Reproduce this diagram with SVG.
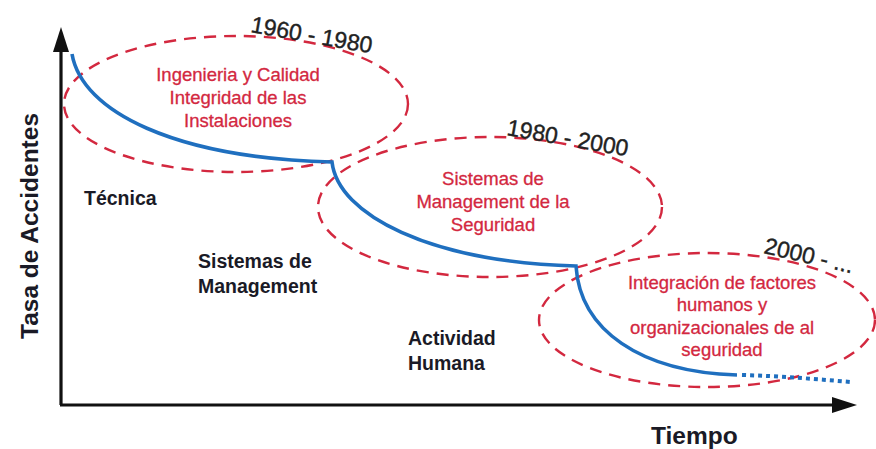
<svg xmlns="http://www.w3.org/2000/svg" width="876" height="449" viewBox="0 0 876 449">
  <defs>
    <style>
      .axis { stroke: #111; stroke-width: 3.2; fill: none; }
      .era { fill: none; stroke: #d3283f; stroke-width: 2.4; stroke-dasharray: 12 8; }
      .curve { fill: none; stroke: #1f6fbf; stroke-width: 3.6; stroke-linecap: butt; }
      .trend { fill: none; stroke: #1f6fbf; stroke-width: 4; stroke-dasharray: 4 4; }
      .red { font-family: "Liberation Sans", Arial, sans-serif; font-size: 18.5px; fill: #d3283f; stroke: #d3283f; stroke-width: 0.3; text-anchor: middle; }
      .lbl { font-family: "Liberation Sans", Arial, sans-serif; font-size: 19.5px; font-weight: bold; fill: #1a1a26; }
      .yr { font-family: "Liberation Sans", Arial, sans-serif; font-size: 23px; fill: #222; stroke: #222; stroke-width: 0.4; }
      .axt { font-family: "Liberation Sans", Arial, sans-serif; font-size: 24.5px; font-weight: bold; fill: #1a1a26; }
    </style>
  </defs>

  <rect width="876" height="449" fill="#fff"/>

  <!-- axes -->
  <g id="axes">
    <path class="axis" d="M61,405 L61,50"/>
    <path d="M53,52 L61,27 L69,52 Z" fill="#111"/>
    <path class="axis" d="M60,405 L834,405"/>
    <path d="M832,397 L857,405 L832,413 Z" fill="#111"/>
    <text class="axt" transform="translate(38,226) rotate(-90)" text-anchor="middle">Tasa de Accidentes</text>
    <text class="axt" x="651" y="444">Tiempo</text>
  </g>

  <!-- era: 1960 - 1980 -->
  <g id="era1">
    <ellipse class="era" cx="236" cy="104" rx="172" ry="68"/>
    <text class="yr" transform="translate(250,32) rotate(10)">1960 - 1980</text>
    <text class="red" x="238" y="81">Ingenieria y Calidad</text>
    <text class="red" x="238" y="104">Integridad de las</text>
    <text class="red" x="238" y="127">Instalaciones</text>
  </g>

  <!-- era: 1980 - 2000 -->
  <g id="era2">
    <ellipse class="era" cx="490" cy="207" rx="172" ry="70"/>
    <text class="yr" transform="translate(506,135) rotate(10)">1980 - 2000</text>
    <text class="red" x="493" y="185">Sistemas de</text>
    <text class="red" x="493" y="208">Management de la</text>
    <text class="red" x="493" y="231">Seguridad</text>
  </g>

  <!-- era: 2000 - ... -->
  <g id="era3">
    <ellipse class="era" cx="707" cy="320" rx="168" ry="67"/>
    <text class="yr" transform="translate(763,253) rotate(13)">2000 - ...</text>
    <text class="red" x="722" y="289">Integración de factores</text>
    <text class="red" x="722" y="311">humanos y</text>
    <text class="red" x="722" y="334">organizacionales de al</text>
    <text class="red" x="722" y="356">seguridad</text>
  </g>

  <!-- stage labels -->
  <g id="stage-tecnica">
    <text class="lbl" x="84" y="205">Técnica</text>
  </g>
  <g id="stage-sistemas">
    <text class="lbl" x="198" y="268">Sistemas de</text>
    <text class="lbl" x="198" y="293">Management</text>
  </g>
  <g id="stage-actividad">
    <text class="lbl" x="408" y="345">Actividad</text>
    <text class="lbl" x="408" y="370">Humana</text>
  </g>

  <!-- accident-rate curve -->
  <g id="connectors">
    <path class="curve" d="M72,54 C82,112 175,158 332,162 C338,215 430,262 576,266 C580,330 640,372 737,375"/>
    <path class="trend" d="M742,375 C780,376 815,379 851,382"/>
  </g>
</svg>
